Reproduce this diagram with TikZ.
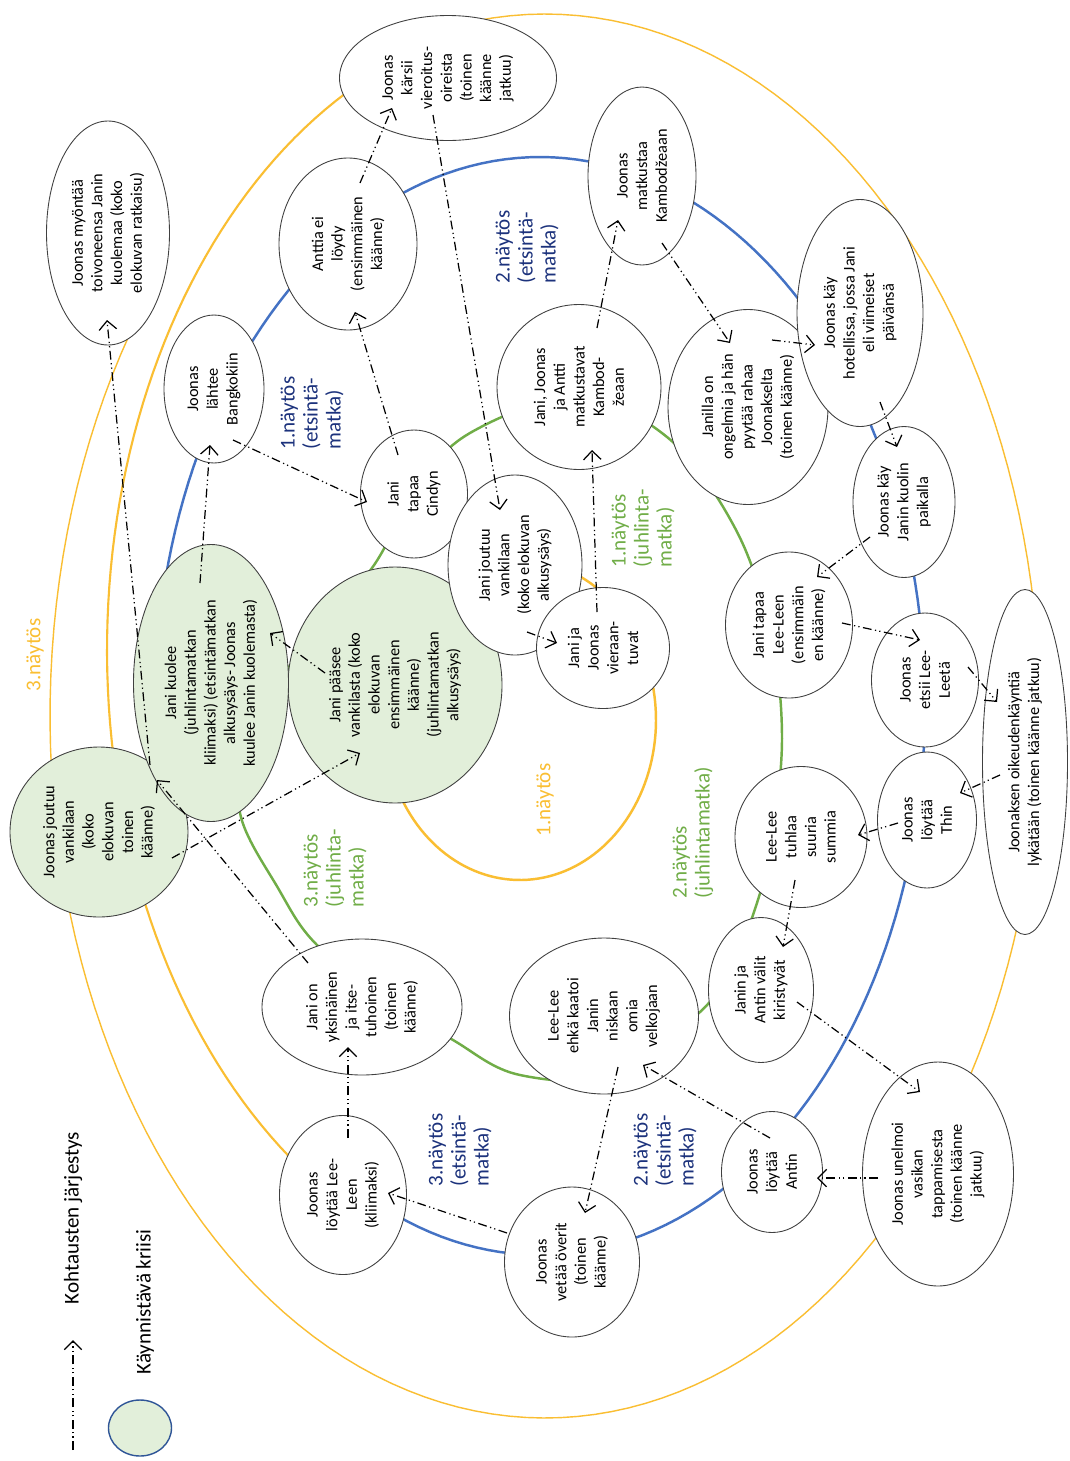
\documentclass[tikz,border=0pt]{standalone}
\usepackage{fontspec}
\setmainfont{Carlito}
\usepackage{tikz}
\usetikzlibrary{arrows.meta}
\usetikzlibrary{calc}
\usetikzlibrary{shapes.geometric}
\definecolor{nayYellow}{RGB}{250,190,50}
\definecolor{etsBlue}{RGB}{68,114,196}
\definecolor{juhGreen}{RGB}{112,173,71}
\definecolor{labelBlue}{RGB}{28,50,124}
\definecolor{kriisiGreen}{RGB}{226,239,218}
\definecolor{kriisiEdge}{RGB}{47,85,151}
\tikzstyle{scene}=[ellipse, draw=black!75, fill=white, line width=0.5pt, inner sep=0pt, align=center, rotate=90, font=\fontsize{9.3}{11.2}\selectfont]
\tikzstyle{kriisi}=[scene, fill=kriisiGreen]
\tikzstyle{actlabel}=[rotate=90, align=left, inner sep=0pt, font=\fontsize{12}{13.1}\selectfont]
\tikzstyle{legendtext}=[rotate=90, inner sep=0pt, font=\fontsize{12}{14}\selectfont]
\tikzstyle{jarjestys}=[line width=0.7pt, dash pattern=on 5pt off 2pt on 0.7pt off 1.8pt on 0.7pt off 2pt, -{Straight Barb[length=5pt,width=10pt]}]
\tikzset{wh/.style 2 args={minimum height=#1*0.02cm, minimum width=#2*0.02cm}}

\begin{document}
\begin{tikzpicture}[x=0.02cm, y=-0.02cm]
  \path[use as bounding box, fill=white] (0,0) rectangle (1070,1461);

  \draw[nayYellow, line width=0.8pt] plot[domain=-100:215, samples=160] ({545+495*cos(\x)}, {716+702*sin(\x)});
  \draw[nayYellow, line width=1.2pt] plot[domain=122:245, samples=80] ({560+453*cos(\x)}, {650+632*sin(\x)});
  \draw[etsBlue, line width=1.4pt] plot[domain=188:472, samples=160] ({540+385*cos(\x)}, {706+549*sin(\x)});
  \draw[nayYellow, line width=1.4pt] plot[domain=-70:155, samples=100] ({520+136*cos(\x)}, {720+160*sin(\x)});
  \draw[juhGreen, line width=1.4pt] plot[smooth cycle, tension=0.6] coordinates {
    (470,433) (575,398) (667,437) (735,528) (770,630) (782,735) (772,840)
    (756,906) (730,970) (700,1012) (620,1075) (520,1075) (453,1040) (390,1000)
    (317,945) (278,888) (240,813) (250,745) (300,650) (372,568) (415,490)};

  \node[scene, wh={217}{125}] (karsii)       at (448,78)   {Joonas\\kärsii\\vieroitus-\\oireista\\(toinen\\käänne\\jatkuu)};
  \node[scene, wh={138}{172}] (anttiEi)      at (348,244)  {Anttia ei\\löydy\\(ensimmäinen\\käänne)};
  \node[scene, wh={100}{148}] (lahtee)       at (214,389)  {Joonas\\lähtee\\Bangkokiin};
  \node[scene, wh={123}{224}] (myontaa)      at (108,233)  {Joonas myöntää\\toivoneensa Janin\\kuolemaa (koko\\elokuvan ratkaisu)};
  \node[scene, wh={108}{178}] (matkustaa)    at (642,176)  {Joonas\\matkustaa\\Kambodžeaan};
  \node[scene, wh={160}{195}] (ongelmia)     at (748,407)  {Janilla on\\ongelmia ja hän\\pyytää rahaa\\Joonakselta\\(toinen käänne)};
  \node[scene, wh={126}{227}] (hotelli)      at (860,313)  {Joonas käy\\hotellissa, jossa Jani\\eli viimeiset\\päivänsä};
  \node[scene, wh={164}{165}] (kolmikko)     at (579,387)  {Jani, Joonas\\ja Antti\\matkustavat\\Kambod-\\žeaan};
  \node[scene, wh={102}{151}] (kuolinpaikka) at (904,502)  {Joonas käy\\Janin kuolin\\paikalla};
  \node[scene, wh={127}{146}] (tapaaLee)     at (789,625)  {Jani tapaa\\Lee-Leen\\(ensimmäin\\en käänne)};
  \node[scene, wh={107}{134}] (etsii)        at (925,680)  {Joonas\\etsii Lee-\\Leetä};
  \node[scene, wh={85}{345}]  (oikeus)       at (1025,762) {Joonaksen oikeudenkäyntiä\\lykätään (toinen käänne jatkuu)};
  \node[scene, wh={99}{136}]  (thin)         at (927,820)  {Joonas\\löytää\\Thin};
  \node[scene, wh={132}{141}] (tuhlaa)       at (801,837)  {Lee-Lee\\tuhlaa\\suuria\\summia};
  \node[kriisi, wh={214}{236}] (paasee)      at (395,685)  {Jani pääsee\\vankilasta (koko\\elokuvan\\ensimmäinen\\käänne)\\(juhlintamatkan\\alkusysäys)};
  \node[kriisi, wh={178}{170}] (joonasVankila) at (99,832) {Joonas joutuu\\vankilaan\\(koko\\elokuvan\\toinen\\käänne)};
  \node[kriisi, wh={155}{277}] (kuolee)      at (211,683)  {Jani kuolee\\(juhlintamatkan\\kliimaksi) (etsintämatkan\\alkusysäys- Joonas\\kuulee Janin kuolemasta)};
  \node[scene, wh={107}{128}] (cindy)        at (414,494)  {Jani\\tapaa\\Cindyn};
  \node[scene, wh={134}{180}] (janiVankila)  at (515,565)  {Jani joutuu\\vankilaan\\(koko elokuvan\\alkusysäys)};
  \node[scene, wh={133}{121}] (vieraantuvat) at (603,648)  {Jani ja\\Joonas\\vieraan-\\tuvat};
  \node[scene, wh={200}{136}] (yksinainen)   at (362,1007) {Jani on\\yksinäinen\\ja itse-\\tuhoinen\\(toinen\\käänne)};
  \node[scene, wh={127}{159}] (loytaaLee)    at (343,1195) {Joonas\\löytää Lee-\\Leen\\(kliimaksi)};
  \node[scene, wh={135}{150}] (overit)       at (572,1262) {Joonas\\vetää överit\\(toinen\\käänne)};
  \node[scene, wh={189}{156}] (kaatoi)       at (604,1016) {Lee-Lee\\ehkä kaatoi\\Janin\\niskaan\\omia\\velkojaan};
  \node[scene, wh={105}{145}] (valit)        at (761,990)  {Janin ja\\Antin välit\\kiristyvät};
  \node[scene, wh={101}{121}] (antin)        at (772,1172) {Joonas\\löytää\\Antin};
  \node[scene, wh={151}{224}] (unelmoi)      at (938,1174) {Joonas unelmoi\\vasikan\\tappamisesta\\(toinen käänne\\jatkuu)};

  \node[actlabel, text=labelBlue] (ets1)  at (312,413)  {1.näytös\\(etsintä-\\matka)};
  \node[actlabel, text=labelBlue] (ets2)  at (527,247)  {2.näytös\\(etsintä-\\matka)};
  \node[actlabel, text=labelBlue] (ets3)  at (460,1150) {3.näytös\\(etsintä-\\matka)};
  \node[actlabel, text=labelBlue] (ets2b) at (665,1150) {2.näytös\\(etsintä-\\matka)};
  \node[actlabel, text=juhGreen]  (juh1)  at (643,528)  {1.näytös\\(juhlinta-\\matka)};
  \node[actlabel, text=juhGreen]  (juh2)  at (693,833)  {2.näytös\\(juhlintamatka)};
  \node[actlabel, text=juhGreen]  (juh3)  at (335,868)  {3.näytös\\(juhlinta-\\matka)};
  \node[actlabel, text=nayYellow] (nay1)  at (545,800)  {1.näytös};
  \node[actlabel, text=nayYellow] (nay3)  at (35,655)   {3.näytös};

  \path[jarjestys]
    ($(janiVankila)+(12,67)$)    edge ($(vieraantuvat)+(-46,-5)$)
    ($(vieraantuvat)+(-6,-36)$)  edge ($(kolmikko)+(13,63)$)
    ($(kolmikko)+(18,-59)$)      edge ($(matkustaa)+(-24,44)$)
    ($(matkustaa)+(20,67)$)      edge ($(ongelmia)+(-18,-64)$)
    ($(ongelmia)+(24,-67)$)      edge ($(hotelli)+(-45,32)$)
    ($(hotelli)+(20,89)$)        edge ($(kuolinpaikka)+(-7,-55)$)
    ($(kuolinpaikka)+(-34,35)$)  edge ($(tapaaLee)+(28,-48)$)
    ($(tapaaLee)+(53,-2)$)       edge ($(etsii)+(-5,-40)$)
    ($(etsii)+(43,-13)$)         edge ($(oikeus)+(-28,-60)$)
    ($(oikeus)+(-25,13)$)        edge ($(thin)+(33,-27)$)
    ($(thin)+(-29,3)$)           edge ($(tuhlaa)+(57,-2)$)
    ($(tuhlaa)+(-6,43)$)         edge ($(valit)+(22,-43)$)
    ($(valit)+(36,12)$)          edge ($(unelmoi)+(-18,-82)$)
    ($(unelmoi)+(-60,4)$)        edge ($(antin)+(45,6)$)
    ($(antin)+(-2,-34)$)         edge ($(kaatoi)+(39,49)$)
    ($(kaatoi)+(14,51)$)         edge ($(overit)+(13,-49)$)
    ($(overit)+(-65,-29)$)       edge ($(loytaaLee)+(45,-2)$)
    ($(loytaaLee)+(5,-57)$)      edge ($(yksinainen)+(-14,40)$)
    ($(yksinainen)+(-54,-44)$)   edge ($(joonasVankila)+(58,-52)$)
    ($(joonasVankila)+(51,-67)$) edge ($(myontaa)+(-1,87)$)
    ($(joonasVankila)+(73,26)$)  edge ($(paasee)+(-35,68)$)
    ($(paasee)+(-70,-12)$)       edge ($(kuolee)+(59,-50)$)
    ($(kuolee)+(-11,-100)$)      edge ($(lahtee)+(-4,56)$)
    ($(lahtee)+(19,51)$)         edge ($(cindy)+(-47,8)$)
    ($(cindy)+(-16,-39)$)        edge ($(anttiEi)+(7,68)$)
    ($(anttiEi)+(12,-61)$)       edge ($(karsii)+(-56,30)$)
    ($(karsii)+(-15,37)$)        edge ($(janiVankila)+(-15,-55)$);

  \coordinate (legendFrom) at (73,1450);
  \coordinate (legendTo)   at (73,1340);
  \draw[jarjestys] (legendFrom) -- (legendTo);
  \node[legendtext] (legendOrder) at (73,1218) {Kohtausten järjestys};
  \node[ellipse, draw=kriisiEdge, fill=kriisiGreen, line width=0.8pt, wh={56}{63}] (legendKriisi) at (140,1428) {};
  \node[legendtext] (legendKriisiText) at (145,1302) {Käynnistävä kriisi};
\end{tikzpicture}
\end{document}
